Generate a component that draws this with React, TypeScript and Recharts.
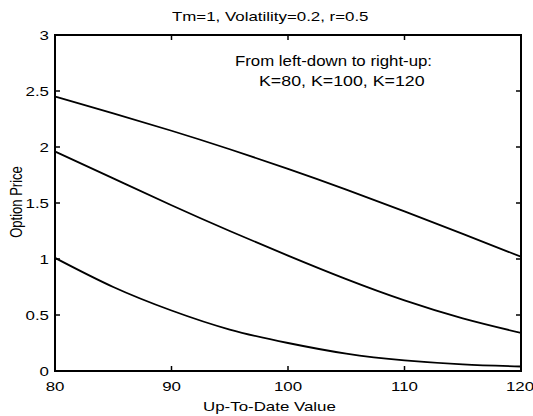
import { LineChart, Line, XAxis, YAxis } from 'recharts';

const upToDate = [80, 85, 90, 95, 100, 105, 110, 115, 120];
const priceK80 = [1.01, 0.75, 0.54, 0.37, 0.25, 0.155, 0.095, 0.06, 0.04];
const priceK100 = [1.96, 1.72, 1.48, 1.25, 1.03, 0.82, 0.63, 0.47, 0.34];
const priceK120 = [2.45, 2.3, 2.145, 1.98, 1.805, 1.62, 1.425, 1.225, 1.02];
const strikes = ['K=80', 'K=100', 'K=120'];
const xTicks = [80, 90, 100, 110, 120];
const yTicks = [0, 0.5, 1, 1.5, 2, 2.5, 3];

const data = upToDate.map((v, i) => ({
  v,
  k80: priceK80[i],
  k100: priceK100[i],
  k120: priceK120[i],
}));

const font = "'Liberation Sans', Arial, Helvetica, sans-serif";
const stretch = 1.25;

const BottomTick = ({ x, y, payload }: any) => {
  // keep the last label inside the picture
  const tx = Math.min(x, 533 - 13);
  return (
    <g>
      <line x1={x} y1={y} x2={x} y2={y - 5} stroke="#000" strokeWidth={1.5} />
      <text
        transform={`translate(${tx},${y + 20}) scale(${stretch},1)`}
        textAnchor="middle"
        fontSize={13.5}
        fontFamily={font}
        fill="#000"
      >
        {payload.value}
      </text>
    </g>
  );
};

const LeftTick = ({ x, y, payload }: any) => (
  <g>
    <line x1={x} y1={y} x2={x + 5} y2={y} stroke="#000" strokeWidth={1.5} />
    <text
      transform={`translate(${x - 6},${y + 5}) scale(${stretch},1)`}
      textAnchor="end"
      fontSize={13.5}
      fontFamily={font}
      fill="#000"
    >
      {payload.value}
    </text>
  </g>
);

const TopTick = ({ x, y }: any) => (
  <line x1={x} y1={y} x2={x} y2={y + 5} stroke="#000" strokeWidth={1.5} />
);

const RightTick = ({ x, y }: any) => (
  <line x1={x} y1={y} x2={x - 5} y2={y} stroke="#000" strokeWidth={1.5} />
);

const textStyle = {
  position: 'absolute' as const,
  fontFamily: font,
  fontSize: 13.5,
  lineHeight: 1,
  whiteSpace: 'nowrap' as const,
  color: '#000',
  transformOrigin: '0 0',
};

export default function App() {
  const axisLine = { stroke: '#000', strokeWidth: 2, strokeLinecap: 'square' as const };
  return (
    <div style={{ position: 'absolute', left: 0, top: 0, width: 533, height: 416, background: '#fff' }}>
      <LineChart
        width={533}
        height={416}
        data={data}
        margin={{ top: 34, right: 11, bottom: 44, left: 54 }}
      >
        <XAxis
          dataKey="v"
          type="number"
          domain={[80, 120]}
          ticks={xTicks}
          allowDataOverflow
          height={1}
          tickSize={0}
          tickMargin={0}
          tickLine={false}
          axisLine={axisLine}
          tick={<BottomTick />}
          interval={0}
        />
        <XAxis
          xAxisId="top"
          orientation="top"
          dataKey="v"
          type="number"
          domain={[80, 120]}
          ticks={xTicks}
          allowDataOverflow
          height={1}
          tickSize={0}
          tickMargin={0}
          tickLine={false}
          axisLine={axisLine}
          tick={<TopTick />}
          interval={0}
        />
        <YAxis
          type="number"
          domain={[0, 3]}
          ticks={yTicks}
          allowDataOverflow
          width={1}
          tickSize={0}
          tickMargin={0}
          tickLine={false}
          axisLine={axisLine}
          tick={<LeftTick />}
          interval={0}
        />
        <YAxis
          yAxisId="right"
          orientation="right"
          type="number"
          domain={[0, 3]}
          ticks={yTicks}
          allowDataOverflow
          width={1}
          tickSize={0}
          tickMargin={0}
          tickLine={false}
          axisLine={axisLine}
          tick={<RightTick />}
          interval={0}
        />
        <Line type="natural" dataKey="k80" stroke="#000" strokeWidth={1.8} dot={false} isAnimationActive={false} />
        <Line type="natural" dataKey="k100" stroke="#000" strokeWidth={1.8} dot={false} isAnimationActive={false} />
        <Line type="natural" dataKey="k120" stroke="#000" strokeWidth={1.8} dot={false} isAnimationActive={false} />
        <Line
          xAxisId="top"
          yAxisId="right"
          type="natural"
          dataKey="k80"
          stroke="none"
          dot={false}
          activeDot={false}
          isAnimationActive={false}
        />
      </LineChart>

      <div style={{ ...textStyle, left: 172, top: 10.3, transform: `scaleX(${stretch})` }}>
        Tm=1, Volatility=0.2, r=0.5
      </div>
      <div style={{ ...textStyle, left: 235, top: 53.6, fontSize: 14, transform: 'scaleX(1.2)' }}>
        From left-down to right-up:
      </div>
      <div style={{ ...textStyle, left: 259, top: 74.2, fontSize: 14, transform: 'scaleX(1.27)' }}>
        {strikes.join(', ')}
      </div>
      <div style={{ ...textStyle, left: 203, top: 400.3, transform: `scaleX(${stretch})` }}>
        Up-To-Date Value
      </div>
      <div
        style={{
          ...textStyle,
          left: 16,
          top: 202,
          fontSize: 13,
          transform: `scaleX(${stretch}) rotate(-90deg) translate(-50%, -50%)`,
        }}
      >
        Option Price
      </div>
    </div>
  );
}
